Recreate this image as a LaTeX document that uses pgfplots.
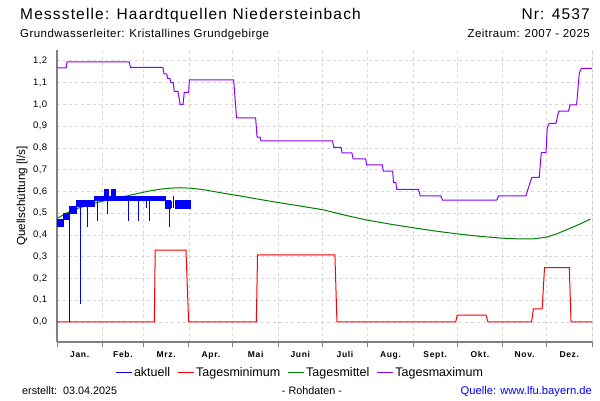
\documentclass[border=0pt]{standalone}
\usepackage{fontspec}
\setmainfont{Liberation Sans}
\newfontfamily\titlefont[LetterSpace=7.5]{Liberation Sans}
\newfontfamily\subfont[LetterSpace=4]{Liberation Sans}
\newfontfamily\monthfont[LetterSpace=8]{Liberation Sans}
\newfontfamily\tickfont[LetterSpace=5]{Liberation Sans}
\usepackage{pgfplots}
\pgfplotsset{compat=1.18}
\definecolor{maxcol}{RGB}{140,0,255}
\definecolor{mincol}{RGB}{255,0,0}
\definecolor{midcol}{RGB}{0,128,0}
\definecolor{aktcol}{RGB}{0,0,255}
\definecolor{gridcol}{RGB}{215,215,215}
\definecolor{axcol}{RGB}{128,128,128}
\begin{document}
\begin{tikzpicture}[x=1pt,y=1pt]
\path (0,0) rectangle (600,400);
\begin{axis}[
  at={(57pt,58pt)}, anchor=south west, scale only axis,
  width=535pt, height=292pt,
  xmin=0, xmax=365, ymin=-0.092, ymax=1.25,
  axis x line*=bottom, axis y line*=left,
  axis line style={axcol, line width=1.2pt},
  xtick={15.5,45,74.5,105,135.5,166,196.5,227.5,258,288.5,319,349.5},
  xticklabels={Jan.,Feb.,Mrz.,Apr.,Mai,Juni,Juli,Aug.,Sept.,Okt.,Nov.,Dez.},
  major x tick style={draw=none},
  minor xtick={0,31,59,90,120,151,181,212,243,273,304,334,365},
  minor x tick style={axcol, line width=1pt},
  minor tick length=5pt, tick align=outside,
  xminorgrids=true, ymajorgrids=true, xmajorgrids=false,
  grid style={gridcol, dash pattern=on 3pt off 3pt, line width=0.8pt},
  ytick={0,0.1,0.2,0.3,0.4,0.5,0.6,0.7,0.8,0.9,1.0,1.1,1.2},
  ytick style={draw=none},
  yticklabel style={/pgf/number format/fixed, /pgf/number format/fixed zerofill,
     /pgf/number format/precision=1, /pgf/number format/use comma,
     /pgf/number format/assume math mode=true,
     font=\tickfont\fontsize{9.5}{11}\selectfont, xshift=-2pt},
  xticklabel style={font=\monthfont\fontsize{8.5}{11}\selectfont\bfseries, yshift=-2pt},
  legend style={at={(0.4542,-0.106)}, anchor=center, legend columns=4, draw=none, fill=none,
    font=\fontsize{12.5}{14}\selectfont,
    /tikz/every even column/.append style={column sep=5pt}},
  legend image code/.code={\draw[#1] (0pt,0pt) -- (16pt,0pt);},
  clip=true,
]
% Tagesminimum
\addplot[mincol, line width=1pt, forget plot] coordinates {
(0,0) (66.4,0) (67,0.33) (88,0.33) (89.8,0) (136,0) (136.8,0.308) (189.6,0.308) (191,0)
(272,0) (273,0.031) (292.7,0.031) (294,0) (323.8,0) (325,0.06) (331,0.06) (332.6,0.25)
(349.5,0.25) (350.7,0) (365,0)};
% Tagesmittel
\addplot[midcol, line width=1pt, forget plot] coordinates {
(0,0.476) (7,0.502) (14,0.522) (21,0.537) (28,0.55) (35,0.562) (42,0.572) (49,0.581)
(56,0.592) (63,0.602) (70,0.61) (77,0.615) (84,0.617) (91,0.615) (100,0.608) (110,0.596)
(118,0.587) (127,0.577) (136,0.566) (150,0.55) (166,0.533) (182,0.515) (197,0.49)
(211,0.469) (227,0.45) (243,0.433) (258,0.418) (273,0.405) (288,0.394) (302,0.386)
(314,0.382) (325,0.382) (334,0.39) (341,0.405) (348,0.425) (356,0.448) (364,0.473)};
% Tagesmaximum
\addplot[maxcol, line width=1pt, forget plot] coordinates {
(0,1.168) (6.3,1.168) (6.8,1.195) (49.2,1.195) (50.2,1.17) (72.3,1.17) (73,1.14) (74.8,1.14)
(75.5,1.12) (77,1.12) (77.6,1.10) (79.3,1.10) (80,1.06) (82.5,1.06) (84,1.0) (86,1.0)
(86.8,1.055) (89.8,1.055) (90.3,1.113) (120.5,1.113) (122.5,0.938) (135.5,0.938)
(136.5,0.85) (138.5,0.85) (139.2,0.832) (188,0.832) (188.8,0.803) (193.8,0.803)
(194.5,0.777) (201.2,0.777) (202,0.75) (210.5,0.75) (211.3,0.722) (222,0.722)
(222.6,0.693) (229,0.693) (229.6,0.64) (231.2,0.64) (231.8,0.61) (246.5,0.61)
(247.8,0.58) (261.8,0.58) (263,0.56) (300,0.56) (301.3,0.58) (320,0.58) (321.3,0.61)
(324,0.665) (329,0.665) (330.4,0.778) (333.6,0.778) (334.5,0.895) (335.9,0.913)
(340.4,0.913) (342.3,0.969) (349,0.969) (350,0.998) (354.5,0.998) (356.3,1.143)
(357.7,1.166) (365,1.166)};
% aktuell: bands
\addplot[fill=aktcol, draw=aktcol, line width=0.5pt, forget plot] coordinates {(0,0.44) (4,0.44) (4,0.47) (0,0.47)} -- cycle;
\addplot[fill=aktcol, draw=aktcol, line width=0.5pt, forget plot] coordinates {(4,0.47) (8.5,0.47) (8.5,0.50) (4,0.50)} -- cycle;
\addplot[fill=aktcol, draw=aktcol, line width=0.5pt, forget plot] coordinates {(8.5,0.50) (13,0.50) (13,0.53) (8.5,0.53)} -- cycle;
\addplot[fill=aktcol, draw=aktcol, line width=0.5pt, forget plot] coordinates {(13,0.53) (25.7,0.53) (25.7,0.56) (13,0.56)} -- cycle;
\addplot[fill=aktcol, draw=aktcol, line width=0.5pt, forget plot] coordinates {(25.7,0.56) (73.7,0.56) (73.7,0.58) (25.7,0.58)} -- cycle;
\addplot[fill=aktcol, draw=aktcol, line width=0.5pt, forget plot] coordinates {(32.5,0.565) (35,0.565) (35,0.61) (32.5,0.61)} -- cycle;
\addplot[fill=aktcol, draw=aktcol, line width=0.5pt, forget plot] coordinates {(37,0.565) (40,0.565) (40,0.61) (37,0.61)} -- cycle;
\addplot[fill=aktcol, draw=aktcol, line width=0.5pt, forget plot] coordinates {(73.7,0.525) (77,0.525) (77,0.558) (73.7,0.558)} -- cycle;
\addplot[fill=aktcol, draw=aktcol, line width=0.5pt, forget plot] coordinates {(80.5,0.525) (91.2,0.525) (91.2,0.558) (80.5,0.558)} -- cycle;
% aktuell: spikes
\addplot[aktcol, line width=1pt, forget plot] coordinates {(8.4,0.47) (8.4,0.0)};
\addplot[aktcol, line width=1pt, forget plot] coordinates {(15.9,0.53) (15.9,0.081)};
\addplot[aktcol, line width=1pt, forget plot] coordinates {(20.5,0.53) (20.5,0.438)};
\addplot[aktcol, line width=1pt, forget plot] coordinates {(27.3,0.56) (27.3,0.465)};
\addplot[aktcol, line width=1pt, forget plot] coordinates {(34.3,0.565) (34.3,0.497)};
\addplot[aktcol, line width=1pt, forget plot] coordinates {(48.7,0.56) (48.7,0.466)};
\addplot[aktcol, line width=1pt, forget plot] coordinates {(55.5,0.56) (55.5,0.466)};
\addplot[aktcol, line width=1pt, forget plot] coordinates {(61,0.56) (61,0.525)};
\addplot[aktcol, line width=1pt, forget plot] coordinates {(62.8,0.56) (62.8,0.466)};
\addplot[aktcol, line width=1pt, forget plot] coordinates {(76.6,0.525) (76.6,0.438)};
\addplot[aktcol, line width=1pt, forget plot] coordinates {(78.2,0.525) (78.2,0.558)};
\addplot[aktcol, line width=1pt, forget plot] coordinates {(79.3,0.525) (79.3,0.58)};
% legend
\addlegendimage{aktcol, line width=1pt}\addlegendentry{aktuell}
\addlegendimage{mincol, line width=1pt}\addlegendentry{Tagesminimum}
\addlegendimage{midcol, line width=1pt}\addlegendentry{Tagesmittel}
\addlegendimage{maxcol, line width=1pt}\addlegendentry{Tagesmaximum}
\draw[axcol, line width=1pt] (rel axis cs:1,0) -- (rel axis cs:1,1);
\end{axis}
\node[anchor=base west, inner sep=0pt, font=\titlefont\fontsize{15.5}{18}\selectfont] at (20,380) {Messstelle: Haardtquellen Niedersteinbach};
\node[anchor=base east, inner sep=0pt, font=\titlefont\fontsize{15.5}{18}\selectfont] at (590,380) {Nr: 4537};
\node[anchor=base west, inner sep=0pt, font=\subfont\fontsize{11.5}{14}\selectfont] at (20,362) {Grundwasserleiter: Kristallines Grundgebirge};
\node[anchor=base east, inner sep=0pt, font=\subfont\fontsize{11.5}{14}\selectfont] at (590,362) {Zeitraum: 2007 - 2025};
\node[anchor=center, rotate=90, inner sep=0pt, font=\fontsize{11.7}{14}\selectfont] at (22,204) {Quellschüttung [l/s]};
\node[anchor=base west, inner sep=0pt, font=\fontsize{10.8}{13}\selectfont] at (22,5.5) {erstellt:\ \ 03.04.2025};
\node[anchor=base, inner sep=0pt, font=\fontsize{10.8}{13}\selectfont] at (312,5.5) {- Rohdaten -};
\node[anchor=base east, inner sep=0pt, font=\fontsize{11.2}{13}\selectfont, text=aktcol] at (592,5.5) {Quelle: www.lfu.bayern.de};
\end{tikzpicture}
\end{document}
